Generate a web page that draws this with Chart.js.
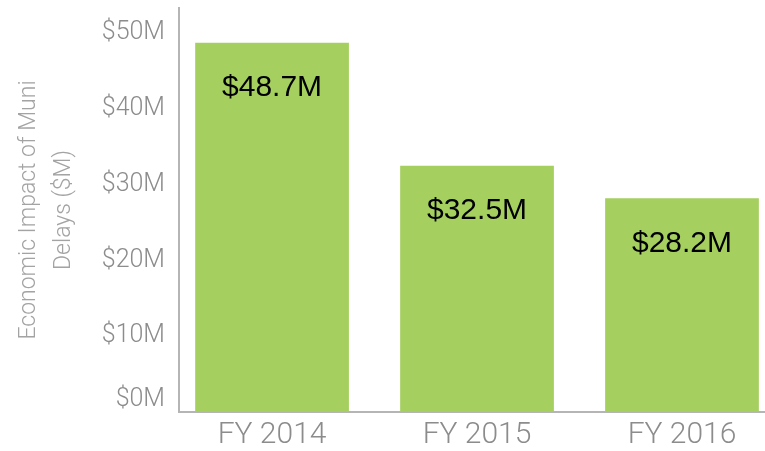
<!DOCTYPE html>
<html lang="en">
<head>
    <meta charset="UTF-8">
    <title>Economic Impact of Muni Delays</title>
    <script src="https://cdn.jsdelivr.net/npm/chart.js"></script>
    <style>
        html, body { margin: 0; padding: 0; background: #fff; }
        .chart-container { position: relative; width: 765px; height: 451px; }
    </style>
</head>
<body>
    <div class="chart-container">
        <canvas id="impactChart"></canvas>
    </div>
    <script>
        // Data
        const years = ['FY 2014', 'FY 2015', 'FY 2016'];
        const impact = [48.7, 32.5, 28.2];
        const valueLabels = ['$48.7M', '$32.5M', '$28.2M'];
        const yTicks = [0, 10, 20, 30, 40, 50];

        const axisGray = '#b5b5b5';
        const tickGray = '#8c8c8c';

        // Writes the value inside each bar, near its top
        const barValues = {
            id: 'barValues',
            afterDatasetsDraw(chart) {
                const ctx = chart.ctx;
                const meta = chart.getDatasetMeta(0);
                ctx.save();
                ctx.font = '30px "Liberation Sans", Arial, sans-serif';
                ctx.fillStyle = '#000';
                ctx.textAlign = 'center';
                ctx.textBaseline = 'middle';
                meta.data.forEach((bar, i) => {
                    ctx.fillText(valueLabels[i], bar.x, bar.y + 45);
                });
                ctx.restore();
            }
        };

        new Chart(document.getElementById('impactChart'), {
            type: 'bar',
            data: {
                datasets: [{
                    data: years.map((y, i) => ({ x: i, y: impact[i] })),
                    backgroundColor: '#a5cf5f',
                    borderWidth: 0,
                    categoryPercentage: 1,
                    barPercentage: 0.75
                }]
            },
            options: {
                responsive: true,
                maintainAspectRatio: false,
                animation: false,
                layout: { padding: { top: 8, right: 0, left: 0, bottom: 0 } },
                plugins: {
                    legend: { display: false },
                    tooltip: { enabled: false }
                },
                scales: {
                    x: {
                        type: 'linear',
                        offset: false,
                        min: -0.454,
                        max: 2.405,
                        grid: { display: false, offset: false, drawTicks: false },
                        border: { display: true, color: axisGray, width: 2 },
                        afterBuildTicks: scale => {
                            scale.ticks = years.map((y, i) => ({ value: i }));
                        },
                        afterFit: scale => {
                            scale.height = 39;
                            scale.paddingLeft = 0;
                            scale.paddingRight = 0;
                        },
                        ticks: {
                            color: tickGray,
                            padding: 5,
                            maxRotation: 0,
                            font: { family: 'Roboto', weight: 300, size: 30 },
                            callback: v => years[v]
                        }
                    },
                    y: {
                        min: 0,
                        max: 53.3,
                        grid: { display: false, drawTicks: false },
                        border: { display: true, color: axisGray, width: 2 },
                        afterBuildTicks: scale => {
                            scale.ticks = yTicks.map(v => ({ value: v }));
                        },
                        afterFit: scale => {
                            scale.width = 179;
                            scale.paddingTop = 0;
                            scale.paddingBottom = 0;
                        },
                        ticks: {
                            color: tickGray,
                            padding: 14,
                            font: { family: 'Roboto', weight: 300, size: 25, lineHeight: 1 },
                            // the $0M label sits a little above the x axis in the reference
                            callback: v => v === 0 ? ['$0M', ''] : '$' + v + 'M'
                        },
                        title: {
                            display: true,
                            text: ['Economic Impact of Muni', 'Delays ($M)'],
                            color: '#a3a3a3',
                            padding: { top: 12, bottom: 0 },
                            font: { family: 'Roboto', weight: 300, size: 23, lineHeight: 1.5 }
                        }
                    }
                }
            },
            plugins: [barValues]
        });
    </script>
</body>
</html>
